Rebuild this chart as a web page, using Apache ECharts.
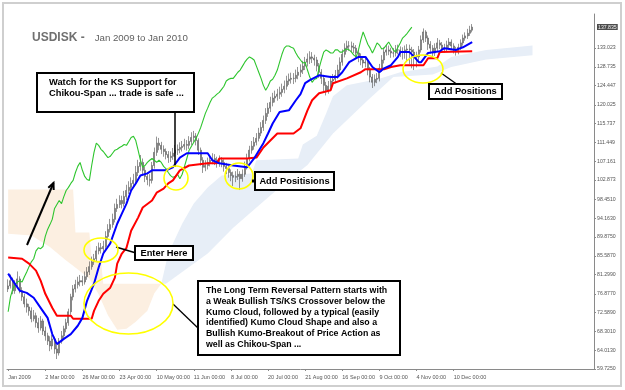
<!DOCTYPE html>
<html>
<head>
<meta charset="utf-8">
<script src="https://cdn.jsdelivr.net/npm/echarts@6/dist/echarts.min.js"></script>
<style>html,body{margin:0;padding:0;background:#fff;}#chart{width:625px;height:390px;}</style>
</head>
<body>
<div id="chart"></div>
<script>
// ---------------- DATA ----------------
const slotCount = 253; // daily bars + 26 bars of forward cloud + right margin
const categories = Array.from({length: slotCount}, (_, i) => String(i));
const xTickIndex = [0, 16, 32, 48, 64, 80, 96, 112, 128, 144, 160, 176, 192];
const xTickLabels = ['Jan 2009', '2 Mar 00:00', '26 Mar 00:00', '23 Apr 00:00', '10 May 00:00', '11 Jun 00:00',
  '8 Jul 00:00', '20 Jul 00:00', '21 Aug 00:00', '16 Sep 00:00', '9 Oct 00:00', '4 Nov 00:00', '10 Dec 00:00'];
const yTickLabels = ['59.7250', '64.0130', '68.3010', '72.5890', '76.8770', '81.2990', '85.5870', '89.8750', '94.1630',
  '98.4510', '102.873', '107.161', '111.449', '115.737', '120.025', '124.447', '128.735', '133.023'];
const lastPriceLabel = '137.835';

const opens = [
78.0,78.7,79.9,77.6,79.2,80.3,77.6,76.2,74.6,73.9,
73.0,71.2,71.9,70.3,69.1,70.7,68.4,67.3,66.1,65.0,
66.6,64.3,63.4,66.1,67.3,68.9,70.3,72.8,76.2,78.0,
79.0,79.6,79.9,79.6,80.8,81.9,83.1,84.2,84.9,86.7,
87.4,87.2,87.7,90.0,91.6,92.7,93.9,96.4,97.3,98.2,
97.5,99.1,100.5,101.2,102.1,102.8,104.6,106.0,106.9,105.1,
103.7,103.0,102.8,106.2,109.2,111.3,110.8,109.9,109.4,108.7,
108.0,108.3,109.0,109.7,109.9,110.3,110.6,111.0,110.8,111.7,
112.6,112.9,111.9,109.7,107.4,105.8,106.2,106.9,107.4,107.8,
107.4,106.9,107.4,106.9,106.0,105.5,104.6,103.9,103.5,103.7,
104.2,103.2,104.2,106.0,107.8,109.7,110.6,111.5,112.4,113.6,
114.9,116.5,118.1,119.3,120.6,121.6,122.0,122.5,122.9,123.6,
124.3,125.5,125.9,126.1,126.1,126.8,127.5,128.0,128.9,129.8,
130.5,131.0,130.7,130.3,128.9,127.5,126.1,124.5,123.4,124.3,
125.5,125.9,126.8,128.0,129.8,131.6,133.0,133.5,133.5,133.2,
133.0,131.9,131.0,130.3,129.6,129.8,128.0,126.4,125.2,125.9,
126.1,128.4,130.3,132.1,132.6,132.3,131.9,131.9,132.6,132.6,
132.1,132.1,132.6,132.8,132.6,132.1,131.4,131.0,132.6,134.9,
136.7,135.3,133.9,133.0,131.9,133.0,134.2,133.7,132.8,133.0,
133.7,134.4,133.5,132.6,132.1,133.2,134.2,135.3,135.8,136.4,
137.1];
const closes = [
78.7,79.9,77.6,79.2,80.3,77.6,76.2,74.6,73.9,73.0,
71.2,71.9,70.3,69.1,70.7,68.4,67.3,66.1,65.0,66.6,
64.3,63.4,66.1,67.3,68.9,70.3,72.8,76.2,78.0,79.0,
79.6,79.9,79.6,80.8,81.9,83.1,84.2,84.9,86.7,87.4,
87.2,87.7,90.0,91.6,92.7,93.9,96.4,97.3,98.2,97.5,
99.1,100.5,101.2,102.1,102.8,104.6,106.0,106.9,105.1,103.7,
103.0,102.8,106.2,109.2,111.3,110.8,109.9,109.4,108.7,108.0,
108.3,109.0,109.7,109.9,110.3,110.6,111.0,110.8,111.7,112.6,
112.9,111.9,109.7,107.4,105.8,106.2,106.9,107.4,107.8,107.4,
106.9,107.4,106.9,106.0,105.5,104.6,103.9,103.5,103.7,104.2,
103.2,104.2,106.0,107.8,109.7,110.6,111.5,112.4,113.6,114.9,
116.5,118.1,119.3,120.6,121.6,122.0,122.5,122.9,123.6,124.3,
125.5,125.9,126.1,126.1,126.8,127.5,128.0,128.9,129.8,130.5,
131.0,130.7,130.3,128.9,127.5,126.1,124.5,123.4,124.3,125.5,
125.9,126.8,128.0,129.8,131.6,133.0,133.5,133.5,133.2,133.0,
131.9,131.0,130.3,129.6,129.8,128.0,126.4,125.2,125.9,126.1,
128.4,130.3,132.1,132.6,132.3,131.9,131.9,132.6,132.6,132.1,
132.1,132.6,132.8,132.6,132.1,131.4,131.0,132.6,134.9,136.7,
135.3,133.9,133.0,131.9,133.0,134.2,133.7,132.8,133.0,133.7,
134.4,133.5,132.6,132.1,133.2,134.2,135.3,135.8,136.4,137.1,
137.8];
const highs = [
80.2,81.3,80.6,80.0,82.0,80.9,78.4,76.9,75.8,74.6,
73.8,73.2,72.6,71.4,71.8,71.2,69.4,68.0,67.2,67.5,
67.1,65.2,66.8,68.4,69.6,71.2,73.5,76.9,78.9,80.1,
80.8,81.2,81.0,82.0,83.0,84.3,85.4,86.0,87.8,88.6,
88.5,89.0,91.2,92.8,94.0,95.2,97.5,98.6,99.4,99.3,
100.4,101.8,102.6,103.5,104.3,106.1,107.5,108.6,107.8,105.9,
104.6,104.2,107.0,110.3,112.8,112.5,111.6,110.8,110.1,109.5,
109.4,110.2,110.9,111.0,111.5,111.8,112.3,112.0,112.9,113.8,
114.1,113.6,112.4,110.3,108.1,107.4,108.0,108.6,109.0,108.8,
108.2,108.5,108.1,107.6,106.8,106.2,105.3,104.8,104.9,105.4,
104.9,105.3,107.1,108.9,110.7,111.8,112.7,113.6,114.8,116.1,
117.6,119.3,120.5,121.9,122.8,123.3,123.7,124.2,124.9,125.6,
126.7,127.2,127.4,127.3,128.1,128.7,129.3,130.1,131.0,131.8,
132.3,132.1,131.5,131.0,129.6,128.2,126.9,125.3,125.5,126.7,
127.1,128.0,129.2,130.9,132.7,134.1,134.7,134.6,134.5,134.2,
133.7,132.6,131.8,131.1,130.9,130.4,128.7,127.1,127.0,127.3,
129.4,131.4,133.2,133.8,133.6,133.1,133.0,133.7,133.8,133.4,
133.2,133.6,133.9,133.8,133.3,132.8,132.2,133.5,135.9,137.5,
137.1,135.9,134.6,133.7,134.1,135.3,134.9,134.4,134.0,134.7,
135.3,135.0,134.1,133.3,134.0,135.0,136.1,136.6,137.4,138.1,
138.5];
const lows = [
77.3,78.1,76.8,76.9,78.6,77.0,75.3,73.8,72.6,71.9,
70.4,70.6,69.2,68.0,68.5,67.5,66.2,65.2,63.8,64.2,
63.2,62.0,62.8,65.5,66.7,68.1,69.6,72.1,75.4,77.2,
78.1,78.6,78.7,79.0,80.1,81.2,82.4,83.5,84.2,85.9,
86.1,86.3,87.0,89.3,90.9,92.0,93.2,95.6,96.5,96.4,
96.8,98.3,99.7,100.3,101.2,102.0,103.8,105.0,104.0,102.4,
101.7,101.4,102.1,105.5,108.4,109.7,108.8,108.2,107.6,106.8,
107.0,107.5,108.2,108.6,109.0,109.4,109.8,109.6,110.0,110.9,
111.6,110.8,108.6,106.2,104.5,104.9,105.3,106.0,106.5,106.3,
105.7,105.9,105.8,104.8,104.2,103.4,102.6,101.5,102.4,102.9,
100.6,102.5,103.6,105.3,107.1,108.9,109.8,110.8,111.7,112.9,
114.1,115.7,117.3,118.4,119.7,120.6,121.0,121.4,121.9,122.7,
123.5,124.6,124.9,124.8,125.2,125.9,126.4,127.1,128.0,128.8,
129.4,129.6,129.0,127.7,126.2,124.8,123.2,122.2,122.6,123.6,
124.7,125.0,126.0,127.2,129.0,130.9,132.2,132.4,132.1,131.9,
130.8,129.8,129.1,128.5,128.6,126.8,125.2,123.9,124.3,125.0,
125.4,127.6,129.5,131.3,131.4,130.8,130.9,131.1,131.6,131.0,
130.4,130.6,129.8,129.4,128.4,128.0,128.6,130.1,132.0,134.2,
134.4,132.6,131.8,130.7,131.2,132.4,132.8,131.9,132.0,132.3,
133.0,132.7,131.8,131.3,131.6,132.6,133.6,134.7,135.1,135.8,
136.6];

// Tenkan-sen (blue) vertices [bar index, value]
const tenkan = [[0,81.5],[2,79.9],[5,77.6],[8,77.1],[11,76.0],[14,73.7],[17,71.4],[19,67.7],[21,65.4],[24,66.6],
 [27,67.7],[30,69.6],[32,71.4],[34,75.3],[37,79.2],[39,82.9],[41,86.1],[44,88.4],[47,92.9],[49,95.2],[51,97.5],
 [53,100.5],[55,102.1],[57,103.9],[60,104.4],[62,105.1],[68,105.1],[71,105.8],[74,108.0],[77,109.0],[86,109.0],
 [88,107.4],[91,106.7],[97,106.2],[103,105.8],[106,107.8],[110,111.3],[112,113.5],[114,115.8],[117,118.4],
 [121,118.8],[124,121.1],[126,122.5],[128,125.0],[130,125.7],[134,126.8],[139,126.4],[142,126.4],[144,127.5],
 [147,129.8],[151,131.0],[154,131.0],[157,128.7],[160,127.5],[162,128.4],[165,129.1],[168,131.0],[169,132.1],
 [173,132.1],[175,131.0],[177,129.8],[178,129.8],[181,131.9],[186,132.3],[188,133.0],[193,132.6],[196,133.2],[200,134.4]];
// Kijun-sen (red) vertices
const kijun = [[0,85.2],[6,84.9],[9,83.8],[12,82.2],[14,79.9],[16,76.9],[19,73.7],[21,71.9],[27,71.9],[28,71.2],
 [36,71.2],[37,73.0],[39,75.3],[41,76.9],[44,78.3],[46,80.6],[47,83.8],[49,86.1],[51,87.4],[53,91.3],[56,94.3],
 [58,96.6],[62,98.2],[64,100.0],[67,100.9],[69,102.1],[71,102.8],[74,105.1],[78,106.2],[86,106.7],[90,106.7],
 [91,107.8],[103,107.8],[107,108.0],[110,110.3],[113,111.9],[116,113.5],[123,113.5],[126,114.7],[129,118.8],
 [131,121.1],[134,122.7],[139,123.4],[140,125.0],[146,126.1],[152,127.5],[154,128.2],[162,128.2],[165,128.7],
 [169,129.1],[179,129.1],[181,130.7],[185,130.7],[186,132.1],[200,132.3]];
// Senkou Span A / B (cloud edges, already displaced 26 bars forward)
const senkouA = [[0,90.6],[10,90.2],[18,87.6],[25,84.5],[28,83.3],[35,80.4],[39,76.8],[43,72.0],[47,68.7],[51,68.9],
 [55,70.5],[60,73.0],[63,77.0],[66,79.2],[69,86.1],[75,92.9],[80,97.5],[86,101.2],[92,103.9],[105,104.4],[107,107.4],
 [125,107.8],[127,111.0],[133,113.0],[137,118.0],[140,122.0],[146,124.5],[160,126.0],[169,127.5],[185,128.8],
 [191,131.0],[206,132.6],[226,133.6]];
const senkouB = [[0,100.7],[28,100.7],[29,90.9],[35,90.9],[36,84.5],[40,84.5],[41,79.2],[66,79.2],[68,79.2],
 [86,86.1],[97,92.0],[109,97.5],[119,102.1],[129,106.3],[140,113.5],[155,121.1],[166,126.4],[183,127.0],
 [191,128.7],[206,130.4],[226,131.4]];
const chikouShift = 26;
const cloudCrossIndex = 66;

// ---------------- BUILD ----------------
const FONT = '"Liberation Sans", Arial, sans-serif';
const candleData = closes.map((c, i) => [opens[i], c, lows[i], highs[i]]);
const chikou = closes.slice(chikouShift);
const yTickValues = yTickLabels.map(Number);
const lastPrice = Number(lastPriceLabel);
const yLabelValues = yTickValues.concat([lastPrice]);

const bearPts = senkouB.filter(p => p[0] <= cloudCrossIndex)
  .concat(senkouA.filter(p => p[0] <= cloudCrossIndex).reverse());
const bullPts = senkouA.filter(p => p[0] >= cloudCrossIndex)
  .concat(senkouB.filter(p => p[0] >= cloudCrossIndex).reverse());
const cloudPolys = [{pts: bearPts, color: '#fcefe1'}, {pts: bullPts, color: '#e7eef7'}];

const chart = echarts.init(document.getElementById('chart'), null, {renderer: 'canvas'});

const yellow = '#ffff00';
function box(x, y, w, h) {
  return {type: 'rect', shape: {x, y, width: w, height: h}, style: {fill: '#fff', stroke: '#000', lineWidth: 2}, z: 100};
}
function txt(x, y, text, size, align, lh) {
  return {type: 'text', x, y, style: {text, font: 'bold ' + size + 'px ' + FONT, fill: '#000',
    textAlign: align || 'left', textVerticalAlign: 'middle', lineHeight: lh || size * 1.2}, z: 101};
}
function ell(cx, cy, rx, ry) {
  return {type: 'ellipse', shape: {cx, cy, rx, ry}, style: {fill: 'none', stroke: yellow, lineWidth: 1.6}, z: 99};
}
function ln(x1, y1, x2, y2, w) {
  return {type: 'line', shape: {x1, y1, x2, y2}, style: {stroke: '#000', lineWidth: w || 1.3}, z: 98};
}

const option = {
  animation: false,
  backgroundColor: '#fff',
  title: {
    left: 27, top: 24,
    text: '{a|USDISK -}  {b|Jan 2009 to Jan 2010}',
    textStyle: {fontWeight: 'normal', rich: {
      a: {fontSize: 12, fontWeight: 'bold', color: '#707070', fontFamily: FONT},
      b: {fontSize: 9.7, fontWeight: 'normal', color: '#606060', fontFamily: FONT}
    }}
  },
  grid: {left: 7, right: 31, top: 14, bottom: 21},
  xAxis: {
    type: 'category', data: categories, boundaryGap: true,
    axisLine: {lineStyle: {color: '#8a8a8a', width: 1}},
    axisTick: {show: true, alignWithLabel: true, length: 2, lineStyle: {color: '#8a8a8a'},
      interval: (i) => xTickIndex.indexOf(i) >= 0},
    axisLabel: {
      interval: (i) => xTickIndex.indexOf(i) >= 0,
      formatter: (v, i) => { const k = xTickIndex.indexOf(i); return k >= 0 ? xTickLabels[k] : ''; },
      align: 'left', margin: 5, fontSize: 5.5, color: '#555', fontFamily: FONT
    },
    splitLine: {show: false}
  },
  yAxis: {
    type: 'value', position: 'right', min: 59.725, max: 140.8, scale: true,
    axisLine: {show: true, lineStyle: {color: '#8a8a8a', width: 1}},
    axisTick: {show: true, length: 2, customValues: yTickValues, lineStyle: {color: '#8a8a8a'}},
    axisLabel: {customValues: yLabelValues, margin: 3, fontSize: 5.2, color: '#555', fontFamily: FONT,
      formatter: (v) => {
        if (Math.abs(v - lastPrice) < 1e-6) return '{hl|' + lastPriceLabel + '}';
        const k = yTickValues.findIndex(t => Math.abs(t - v) < 1e-6); return k >= 0 ? yTickLabels[k] : '';
      },
      rich: {hl: {backgroundColor: '#4d4d4d', color: '#f0f0f0', fontSize: 5.2, padding: [1, 1, 0, 1], fontFamily: FONT}}},
    splitLine: {show: false}
  },
  series: [
    {
      type: 'custom', name: 'Kumo', z: 1, silent: true,
      data: [[0, 100.7], [cloudCrossIndex, 79.2]],
      encode: {x: 0, y: 1},
      renderItem: (params, api) => {
        const poly = cloudPolys[params.dataIndex];
        return {type: 'polygon', shape: {points: poly.pts.map(p => api.coord(p))}, style: {fill: poly.color}};
      }
    },
    {
      type: 'candlestick', name: 'USDISK', z: 2, data: candleData, barWidth: 1.5,
      itemStyle: {color: '#b6b6b6', color0: '#a4a4a4', borderColor: '#4e4e4e', borderColor0: '#4e4e4e', borderWidth: 0.6}
    },
    {type: 'line', name: 'Chikou', z: 3, data: chikou, showSymbol: false, symbol: 'none',
      lineStyle: {color: '#2ec52e', width: 1.1}},
    {type: 'line', name: 'Kijun', z: 4, data: kijun, showSymbol: false, symbol: 'none',
      lineStyle: {color: '#ff0000', width: 2}},
    {type: 'line', name: 'Tenkan', z: 5, data: tenkan, showSymbol: false, symbol: 'none',
      lineStyle: {color: '#0000ff', width: 2}}
  ],
  graphic: {elements: [
    {type: 'rect', shape: {x: 3, y: 3, width: 618, height: 383}, style: {fill: 'none', stroke: '#cfcfcf', lineWidth: 2}, z: 0, silent: true},
    // KS support note
    ln(175, 112, 175, 167, 1.5),
    box(37, 73, 157, 39),
    txt(49, 87.5, 'Watch for the KS Support for\nChikou-Span ... trade is safe ...', 9.3, 'left', 11),
    ell(176, 178, 12, 12),
    // Add Positisions
    ell(239, 176, 14, 13),
    ln(252, 181, 256, 181, 1.5),
    {type: 'rect', shape: {x: 252, y: 179.5, width: 3, height: 3}, style: {fill: '#000'}, z: 100},
    box(255, 172, 79, 18),
    txt(294.5, 181, 'Add Positisions', 9.3, 'center'),
    // Enter here
    ell(101, 250, 17, 12),
    ln(116, 247, 136, 253, 1.5),
    box(135, 246, 58, 14),
    txt(164, 253, 'Enter Here', 9.3, 'center'),
    // Long term reversal
    ell(128.5, 303.5, 44.5, 30.5),
    ln(173, 304, 199, 329, 1.3),
    box(198, 281, 202, 74),
    txt(206, 317.5, 'The Long Term Reversal Pattern starts with\na Weak Bullish TS/KS Crossover below the\nKumo Cloud, followed by a typical (easily\nidentified) Kumo Cloud Shape and also a\nBullish Kumo-Breakout of Price Action as\nwell as Chikou-Span ...', 8.8, 'left', 10.7),
    // Add Positions
    ell(423, 69, 20, 14),
    ln(441, 73, 458, 85, 1.3),
    box(429, 84, 73, 15),
    txt(465.5, 91.5, 'Add Positions', 9.3, 'center'),
    // arrow
    ln(27, 245, 53.5, 183, 2),
    {type: 'polyline', shape: {points: [[48.3, 187.7], [53.5, 183], [53.7, 190]]}, style: {stroke: '#000', lineWidth: 2, fill: 'none'}, z: 98}
  ]}
};
chart.setOption(option);
</script>
</body>
</html>
